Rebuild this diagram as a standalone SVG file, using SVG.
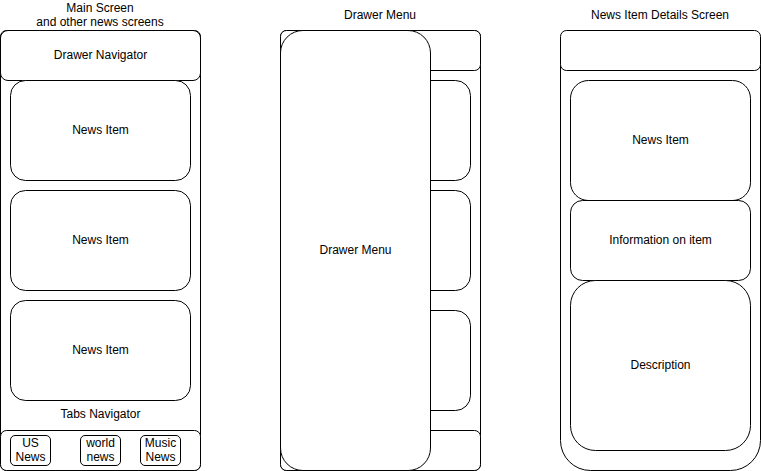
<svg xmlns="http://www.w3.org/2000/svg" width="761" height="471" viewBox="0 0 761 471">
<style>
rect{fill:#fff;stroke:#000;stroke-width:1}
text{font-family:"Liberation Sans",Arial,sans-serif;font-size:12px;fill:#000;text-anchor:middle;dominant-baseline:central}
</style>
<rect x="0" y="0" width="761" height="471" style="stroke:none"/>
<g id="main-screen">
<text x="100" y="8">Main Screen</text>
<text x="100" y="22">and other news screens</text>
<rect x="0.5" y="30.5" width="200" height="440" rx="6"/>
<g id="drawer-navigator"><rect x="0.5" y="30.5" width="200" height="50" rx="7.5"/><text x="100.5" y="55">Drawer Navigator</text></g>
<g id="news-item-1"><rect x="10.5" y="80.5" width="180" height="100" rx="15"/><text x="100.5" y="130">News Item</text></g>
<g id="news-item-2"><rect x="10.5" y="190.5" width="180" height="100" rx="15"/><text x="100.5" y="240">News Item</text></g>
<g id="news-item-3"><rect x="10.5" y="300.5" width="180" height="100" rx="15"/><text x="100.5" y="350">News Item</text></g>
<text x="100.5" y="414">Tabs Navigator</text>
<g id="tabs-bar"><rect x="0.5" y="430.5" width="200" height="40" rx="6"/></g>
<g id="tab-us"><rect x="10.5" y="435.5" width="40" height="30" rx="4.5"/><text x="30.5" y="443">US</text><text x="30.5" y="457">News</text></g>
<g id="tab-world"><rect x="80.5" y="435.5" width="40" height="30" rx="4.5"/><text x="100.5" y="443">world</text><text x="100.5" y="457">news</text></g>
<g id="tab-music"><rect x="140.5" y="435.5" width="40" height="30" rx="4.5"/><text x="160.5" y="443">Music</text><text x="160.5" y="457">News</text></g>
</g>
<g id="drawer-screen">
<text x="380" y="15">Drawer Menu</text>
<rect x="280.5" y="30.5" width="200" height="440" rx="6"/>
<rect x="280.5" y="30.5" width="200" height="40" rx="6"/>
<rect x="290.5" y="80.5" width="180" height="100" rx="15"/>
<rect x="290.5" y="190.5" width="180" height="100" rx="15"/>
<rect x="290.5" y="310.5" width="180" height="100" rx="15"/>
<rect x="280.5" y="430.5" width="200" height="40" rx="6"/>
<g id="drawer-menu"><rect x="280.5" y="30.5" width="150" height="440" rx="22.5"/><text x="355.5" y="250">Drawer Menu</text></g>
</g>
<g id="details-screen">
<text x="660" y="15">News Item Details Screen</text>
<rect x="560.5" y="30.5" width="200" height="440" rx="30"/>
<rect x="560.5" y="30.5" width="200" height="40" rx="6"/>
<g id="detail-news-item"><rect x="570.5" y="80.5" width="180" height="120" rx="18"/><text x="660.5" y="140">News Item</text></g>
<g id="detail-info"><rect x="570.5" y="200.5" width="180" height="80" rx="12"/><text x="660.5" y="240">Information on item</text></g>
<g id="detail-description"><rect x="570.5" y="280.5" width="180" height="170" rx="25"/><text x="660.5" y="365">Description</text></g>
</g>
<g id="connectors"/>
</svg>
